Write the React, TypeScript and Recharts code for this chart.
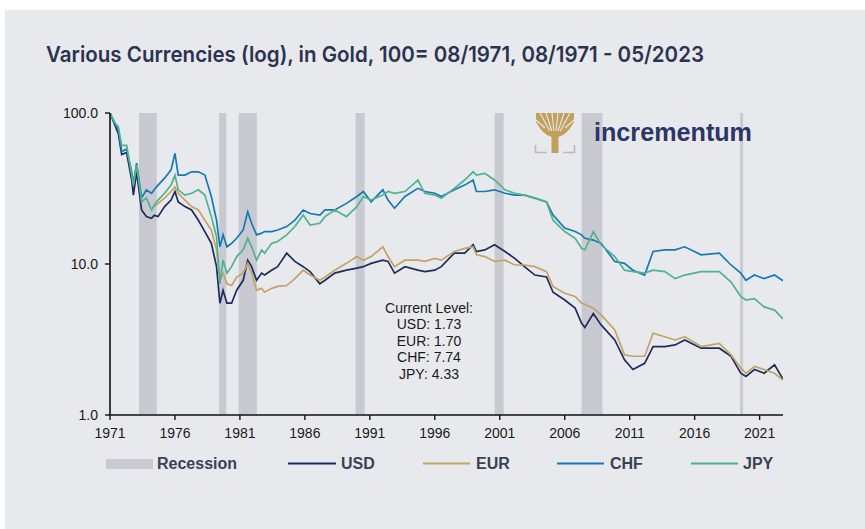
import React from 'react';
import { LineChart, Line, XAxis, YAxis, ReferenceArea } from 'recharts';

// decimal years (08/1971 = 1971.6) and currency values in gold, 100 = 08/1971
const years = [
  1971.6, 1971.98, 1972.24, 1972.5, 1972.88, 1973.27, 1973.4, 1973.65, 1974.03, 1974.4,
  1974.8, 1975.0, 1975.3, 1975.8, 1976.3, 1976.6, 1976.85, 1977.37, 1977.88, 1978.4,
  1978.9, 1979.4, 1979.8, 1980.06, 1980.3, 1980.6, 1980.96, 1981.35, 1981.85, 1982.2,
  1982.5, 1982.88, 1983.27, 1983.5, 1984.04, 1984.5, 1985.2, 1985.83, 1986.47, 1987.0,
  1987.75, 1988.15, 1988.9, 1989.8, 1990.6, 1991.1, 1991.7, 1992.6, 1993.0, 1993.5,
  1994.3, 1995.3, 1995.83, 1996.6, 1997.1, 1998.1, 1998.9, 1999.55, 1999.8, 2000.45,
  2001.2, 2002.0, 2002.75, 2003.5, 2004.3, 2005.2, 2005.7, 2006.6, 2007.4, 2007.9,
  2008.15, 2008.8, 2009.4, 2010.45, 2011.2, 2011.85, 2012.75, 2013.4, 2014.3, 2015.1,
  2015.83, 2017.1, 2018.5, 2019.4, 2020.15, 2020.55, 2021.2, 2021.95, 2022.75, 2023.4,
];

const usd = [
  100, 83, 73, 53, 54.7, 36, 28.6, 40.8, 22.8, 20.6,
  20.1, 21, 20.6, 24, 26.5, 30.2, 25.8, 24, 22.8, 19.5,
  16.4, 13.7, 9.6, 5.5, 6.7, 5.5, 5.5, 6.7, 7.8, 10.6,
  9.6, 7.8, 8.7, 8.45, 9.1, 9.6, 11.8, 10.4, 9.6, 8.9,
  7.4, 7.8, 8.7, 9.1, 9.4, 9.6, 10.1, 10.6, 10.4, 8.7,
  9.6, 9.1, 8.9, 9.1, 9.6, 11.8, 11.8, 13.4, 12.1, 12.4,
  13.4, 12.1, 10.9, 9.6, 8.45, 8.2, 6.5, 5.77, 5.1, 4.05,
  3.8, 4.7, 3.95, 3.14, 2.32, 2.0, 2.2, 2.84, 2.84, 2.91,
  3.14, 2.77, 2.77, 2.45, 1.89, 1.8, 2.0, 1.89, 2.15, 1.73,
];

const eur = [
  null, null, null, null, null, null, null, null, null, null,
  null, 24, 25.2, 27.3, 30.2, 32.4, 29.4, 26.5, 24, 22.8,
  19.5, 16.8, 12.4, 7.8, 8.7, 7.4, 7.2, 8.2, 8.7, 10.1,
  8.7, 6.7, 6.9, 6.5, 6.9, 7.1, 7.2, 8.0, 9.1, 8.45,
  7.8, 8.2, 9.1, 10.1, 11.2, 10.6, 11.2, 13.0, 11.2, 9.6,
  10.6, 10.6, 10.4, 10.9, 10.6, 12.1, 12.7, 13.0, 11.5, 11.2,
  10.4, 10.6, 9.85, 9.85, 9.6, 8.9, 7.1, 6.4, 6.1, 5.5,
  5.4, 5.1, 4.6, 3.66, 2.5, 2.45, 2.45, 3.48, 3.3, 3.14,
  3.3, 2.84, 2.98, 2.5, 2.05, 1.89, 2.1, 2.0, 1.89, 1.7,
];

const chf = [
  100, 85, 78, 55.5, 57.7, 40.8, 34, 46.5, 27.4, 30.9,
  29.4, 31, 33.3, 37, 42, 54, 38.8, 38.8, 40.8, 40.8,
  38.8, 28, 19.5, 13.0, 15.6, 13.0, 13.7, 14.8, 16.8, 22.2,
  18.6, 15.6, 16, 16.4, 16.4, 16.8, 17.7, 19.5, 22.8, 21.6,
  21.1, 22.8, 22.8, 25.2, 28, 30.2, 25.8, 31, 26.5, 23.4,
  28, 31.7, 30.2, 29.4, 28, 31, 33.3, 36, 30.2, 30.2,
  31, 29.4, 28.6, 28.6, 27.3, 25.8, 21.1, 17.3, 16.4, 15.6,
  14.8, 14.4, 13.7, 10.4, 10.1, 9.1, 8.45, 12.1, 12.4, 12.4,
  13.0, 11.5, 11.8, 9.85, 8.7, 7.8, 8.45, 8.0, 8.45, 7.74,
];

const jpy = [
  100, 86, 81, 61, 61, 38.8, 33, 45.3, 25.8, 27.4,
  22.8, 24.5, 26.5, 29.4, 33.3, 38.8, 31, 28.6, 29.4, 31,
  28.6, 20.6, 15.2, 7.4, 10.6, 8.7, 9.6, 11.2, 12.4, 14.8,
  13.0, 10.6, 12.4, 11.8, 13.7, 14.1, 15.6, 17.7, 21.1, 18.1,
  18.6, 20.6, 22.8, 20.6, 24, 28, 26.5, 28.6, 30.2, 29.4,
  30.2, 36, 29.4, 28.6, 27.3, 31.7, 36, 40.8, 38.8, 39.8,
  36, 31, 29.4, 28.6, 27.3, 25.8, 19.5, 16.4, 14.8, 12.7,
  12.4, 16.4, 13.4, 11.2, 9.1, 8.9, 8.7, 9.1, 8.9, 8.0,
  8.45, 8.9, 8.9, 7.6, 6.1, 5.77, 5.9, 5.2, 4.95, 4.33,
];

// US recessions (start, end)
const recessionStarts = [1973.83, 1980.0, 1981.5, 1990.5, 2001.2, 2007.9, 2020.1];
const recessionEnds = [1975.2, 1980.55, 1982.9, 1991.2, 2001.9, 2009.5, 2020.33];

const xTicks = [1971.6, 1976.6, 1981.6, 1986.6, 1991.6, 1996.6, 2001.6, 2006.6, 2011.6, 2016.6, 2021.6];
const xTickLabels = ['1971', '1976', '1981', '1986', '1991', '1996', '2001', '2006', '2011', '2016', '2021'];
const yTicks = [1, 10, 100];

const currentLevels = ['USD: 1.73', 'EUR: 1.70', 'CHF: 7.74', 'JPY: 4.33'];

const data = years.map((t, i) => ({ t, usd: usd[i], eur: eur[i], chf: chf[i], jpy: jpy[i] }));

const series = [
  { key: 'usd', name: 'USD', color: '#1f2b5e' },
  { key: 'eur', name: 'EUR', color: '#c3a366' },
  { key: 'chf', name: 'CHF', color: '#1679b5' },
  { key: 'jpy', name: 'JPY', color: '#4fb38d' },
];

const legendPos = [
  { x1: 288, x2: 336, tx: 341 },
  { x1: 423, x2: 470, tx: 476 },
  { x1: 557, x2: 604, tx: 610 },
  { x1: 691, x2: 738, tx: 743 },
];

const tickStyle = { fontFamily: '"Liberation Sans", Arial, sans-serif', fontSize: 14, fill: '#1a1a1a' };

function Overlay() {
  const gold = '#c1a05c';
  const bg = '#e8e9ed';
  return (
    <svg width={865} height={529} style={{ position: 'absolute', left: 0, top: 0, pointerEvents: 'none' }}>
      <text
        x={46}
        y={62}
        textLength={658}
        lengthAdjust="spacingAndGlyphs"
        style={{ fontFamily: 'Inter, "Noto Sans", sans-serif', fontSize: 22, fontWeight: 600, fill: '#2b3350' }}
      >
        Various Currencies (log), in Gold, 100= 08/1971, 08/1971 - 05/2023
      </text>

      {/* logo */}
      <g>
        <path d="M536,113 H574 V122 Q567,135 558.5,137 V153 H551.5 V137 Q543,135 536,122 Z" fill={gold} />
        {[[540, 113], [546, 113], [552, 113], [558, 113], [564, 113], [570, 113]].map(([x, y], i) => (
          <line key={i} x1={555 + (x - 555) * 0.35} y1={131} x2={x} y2={y} stroke={bg} strokeWidth={1.1} />
        ))}
        <line x1={536} y1={120} x2={545} y2={128} stroke={bg} strokeWidth={1.1} />
        <line x1={574} y1={120} x2={565} y2={128} stroke={bg} strokeWidth={1.1} />
        <path d="M535.5,145 V152.5 H547" fill="none" stroke="#b8bac3" strokeWidth={1.6} />
        <path d="M574.5,145 V152.5 H563" fill="none" stroke="#b8bac3" strokeWidth={1.6} />
        <text
          x={594}
          y={141}
          textLength={158}
          lengthAdjust="spacingAndGlyphs"
          style={{ fontFamily: '"Liberation Sans", Arial, sans-serif', fontSize: 26, fontWeight: 700, fill: '#2c3566' }}
        >
          incrementum
        </text>
      </g>

      {/* current level note */}
      <g style={{ fontFamily: '"Liberation Sans", Arial, sans-serif', fontSize: 14, fill: '#1a1a1a' }} textAnchor="middle">
        <text x={429} y={313}>Current Level:</text>
        {currentLevels.map((s, i) => (
          <text key={s} x={429} y={329 + i * 16.5}>{s}</text>
        ))}
      </g>

      {/* legend */}
      <g style={{ fontFamily: '"Liberation Sans", Arial, sans-serif', fontSize: 16, fontWeight: 700, fill: '#3b4152' }}>
        <rect x={106} y={459} width={47} height={10} fill="#c9cad1" />
        <text x={157} y={469}>Recession</text>
        {series.map((s, i) => (
          <g key={s.key}>
            <line x1={legendPos[i].x1} x2={legendPos[i].x2} y1={463.5} y2={463.5} stroke={s.color} strokeWidth={2} />
            <text x={legendPos[i].tx} y={469}>{s.name}</text>
          </g>
        ))}
      </g>
    </svg>
  );
}

export default function App() {
  return (
    <div style={{ position: 'fixed', left: 0, top: 0, width: 865, height: 529, background: '#ffffff' }}>
      <div style={{ position: 'absolute', left: 5, top: 10, width: 860, height: 519, background: '#e8e9ed' }} />
      <div style={{ position: 'absolute', left: 0, top: 0 }}>
        <LineChart width={865} height={529} data={data} margin={{ top: 113, right: 82, bottom: 84, left: 0 }}>
          {recessionStarts.map((s, i) => (
            <ReferenceArea key={s} x1={s} x2={recessionEnds[i]} fill="#c9cad1" fillOpacity={1} stroke="none" />
          ))}
          <XAxis
            dataKey="t"
            type="number"
            domain={[1971.6, 2023.4]}
            ticks={xTicks}
            tickFormatter={(v: number) => xTickLabels[xTicks.indexOf(v)] ?? ''}
            interval={0}
            height={30}
            tick={tickStyle}
            tickSize={5}
            tickMargin={8}
            axisLine={{ stroke: '#111', strokeWidth: 1.6 }}
            tickLine={{ stroke: '#111', strokeWidth: 1.4 }}
            allowDataOverflow
          />
          <YAxis
            type="number"
            scale="log"
            domain={[1, 100]}
            ticks={yTicks}
            tickFormatter={(v: number) => v.toFixed(1)}
            interval={0}
            width={110}
            tick={tickStyle}
            tickSize={5}
            tickMargin={7}
            axisLine={{ stroke: '#111', strokeWidth: 1.6 }}
            tickLine={{ stroke: '#111', strokeWidth: 1.4 }}
            allowDataOverflow
          />
          {series.map((s) => (
            <Line
              key={s.key}
              type="linear"
              dataKey={s.key}
              name={s.name}
              stroke={s.color}
              strokeWidth={1.7}
              dot={false}
              isAnimationActive={false}
            />
          ))}
        </LineChart>
      </div>
      <Overlay />
    </div>
  );
}
